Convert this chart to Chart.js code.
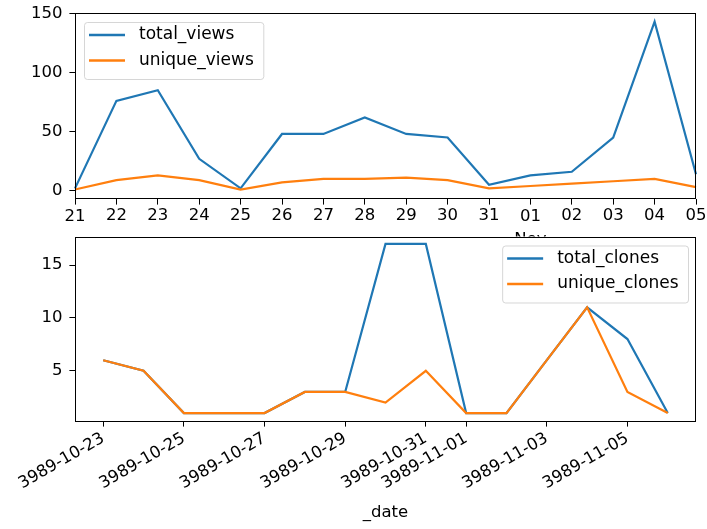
<!DOCTYPE html>
<html>
<head>
<meta charset="utf-8">
<script src="https://cdn.jsdelivr.net/npm/chart.js@4.4.1/dist/chart.umd.min.js"></script>
<style>
  html, body { margin: 0; padding: 0; background: #fff; }
  body { width: 707px; height: 529px; position: relative; overflow: hidden; }
  #top { position: absolute; left: 0; top: 0; width: 707px; height: 250px; }
  #bottom { position: absolute; left: 0; top: 230px; width: 707px; height: 299px; }
</style>
</head>
<body>
<div id="top"><canvas id="viewsChart"></canvas></div>
<div id="bottom"><canvas id="clonesChart"></canvas></div>
<script>
// views (top plot)
const viewDays = ['21', '22', '23', '24', '25', '26', '27', '28', '29', '30', '31', '01', '02', '03', '04', '05'];
const totalViews = [2, 76, 85, 27, 2, 48, 48, 62, 48, 45, 5, 13, 16, 45, 143, 14];
const uniqueViews = [1, 9, 13, 9, 1, 7, 10, 10, 11, 9, 2, 4, 6, 8, 10, 3];
const viewsYTicks = [0, 50, 100, 150];

// clones (bottom plot)
const cloneDates = ['3989-10-23', '3989-10-24', '3989-10-25', '3989-10-26', '3989-10-27', '3989-10-28', '3989-10-29',
  '3989-10-30', '3989-10-31', '3989-11-01', '3989-11-02', '3989-11-03', '3989-11-04', '3989-11-05', '3989-11-06'];
const totalClones = [6, 5, 1, 1, 1, 3, 3, 17, 17, 1, 1, 6, 11, 8, 1];
const uniqueClones = [6, 5, 1, 1, 1, 3, 3, 2, 5, 1, 1, 6, 11, 3, 1];
const cloneTickLabels = ['3989-10-23', '3989-10-25', '3989-10-27', '3989-10-29', '3989-10-31', '3989-11-01', '3989-11-03', '3989-11-05'];
const clonesYTicks = [5, 10, 15];

const BLUE = '#1f77b4';
const ORANGE = '#ff7f0e';

Chart.defaults.font.family = 'DejaVu Sans';
Chart.defaults.font.size = 16.5;
Chart.defaults.color = '#000';
Chart.defaults.animation = false;

// white axes background + black frame + matplotlib-ish legend box
function axesPlugin(legendSide) {
  return {
    id: 'axesFrame',
    beforeDraw(chart) {
      const a = chart.chartArea, ctx = chart.ctx;
      ctx.save();
      ctx.fillStyle = '#fff';
      ctx.fillRect(a.left, a.top, a.right - a.left, a.bottom - a.top);
      ctx.restore();
    },
    afterDraw(chart) {
      const a = chart.chartArea, ctx = chart.ctx;
      ctx.save();
      ctx.strokeStyle = '#000';
      ctx.lineWidth = 1;
      ctx.strokeRect(Math.round(a.left) + 0.5, Math.round(a.top) + 0.5,
        Math.round(a.right - a.left) - 1, Math.round(a.bottom - a.top) - 1);

      // legend
      ctx.font = '17px "DejaVu Sans"';
      const sets = chart.data.datasets;
      let textW = 0;
      sets.forEach(d => { textW = Math.max(textW, ctx.measureText(d.label).width); });
      const w = 55 + textW + 9.5, h = 57;
      const x = legendSide === 'left' ? a.left + 9 : a.right - 8 - w;
      const y = a.top + 9;
      ctx.globalAlpha = 0.8;
      ctx.fillStyle = '#fff';
      ctx.strokeStyle = '#cccccc';
      ctx.beginPath();
      ctx.roundRect(x + 0.5, y + 0.5, w, h, 3);
      ctx.fill();
      ctx.stroke();
      ctx.globalAlpha = 1;
      sets.forEach((d, i) => {
        const ry = y + 13 + i * 25.5;
        ctx.strokeStyle = d.borderColor;
        ctx.lineWidth = 2.4;
        ctx.beginPath();
        ctx.moveTo(x + 5, ry);
        ctx.lineTo(x + 41, ry);
        ctx.stroke();
        ctx.fillStyle = '#000';
        ctx.textBaseline = 'middle';
        ctx.textAlign = 'left';
        ctx.fillText(d.label, x + 55, ry);
      });
      ctx.restore();
    }
  };
}

const tickGrid = { drawOnChartArea: false, drawTicks: true, tickLength: 5.6, color: '#000', lineWidth: 1 };

// keep the plot areas where the reference has them
const fixY = s => { s.width = 75; s.paddingTop = 0; s.paddingBottom = 0; };
const fixX = h => s => { s.height = h; s.paddingLeft = 0; s.paddingRight = 0; };

// order: second series is drawn over the first, like matplotlib
new Chart(document.getElementById('viewsChart'), {
  type: 'line',
  data: {
    labels: viewDays,
    datasets: [
      { label: 'total_views', data: totalViews, borderColor: BLUE, backgroundColor: BLUE, borderWidth: 2.2, pointRadius: 0, tension: 0, order: 2 },
      { label: 'unique_views', data: uniqueViews, borderColor: ORANGE, backgroundColor: ORANGE, borderWidth: 2.2, pointRadius: 0, tension: 0, order: 1 }
    ]
  },
  options: {
    responsive: true,
    maintainAspectRatio: false,
    layout: { padding: { top: 13, right: 11, left: 0, bottom: 0 } },
    plugins: { legend: { display: false }, tooltip: { enabled: false } },
    scales: {
      x: {
        type: 'category',
        offset: false,
        grid: tickGrid,
        border: { display: false },
        ticks: {
          autoSkip: false, maxRotation: 0, minRotation: 0, padding: 1,
          font: (c) => ({ size: 16.5, lineHeight: (c.index === 0 || c.index === 11) ? 23 / 16.5 : 1.2 }),
          callback: (v, i) => i === 11 ? [viewDays[i], 'Nov'] : viewDays[i]
        },
        afterFit: fixX(51)
      },
      y: {
        min: -7, max: 150.3,
        grid: tickGrid,
        border: { display: false },
        ticks: { padding: 7 },
        afterBuildTicks: ax => { ax.ticks = viewsYTicks.map(v => ({ value: v })); },
        afterFit: fixY
      }
    }
  },
  plugins: [axesPlugin('left')]
});

new Chart(document.getElementById('clonesChart'), {
  type: 'line',
  data: {
    datasets: [
      { label: 'total_clones', data: totalClones.map((v, i) => ({ x: i, y: v })), borderColor: BLUE, backgroundColor: BLUE, borderWidth: 2.2, pointRadius: 0, tension: 0, order: 2 },
      { label: 'unique_clones', data: uniqueClones.map((v, i) => ({ x: i, y: v })), borderColor: ORANGE, backgroundColor: ORANGE, borderWidth: 2.2, pointRadius: 0, tension: 0, order: 1 }
    ]
  },
  options: {
    responsive: true,
    maintainAspectRatio: false,
    layout: { padding: { top: 6.5, right: 11, left: 0, bottom: 0 } },
    plugins: { legend: { display: false }, tooltip: { enabled: false } },
    scales: {
      x: {
        type: 'linear',
        min: -0.7, max: 14.7,
        grid: tickGrid,
        border: { display: false },
        afterBuildTicks: ax => { ax.ticks = cloneTickLabels.map(t => ({ value: cloneDates.indexOf(t) })); },
        ticks: {
          autoSkip: false, minRotation: 30, maxRotation: 30, padding: 2,
          callback: v => cloneDates[v]
        },
        title: { display: true, text: '_date', padding: { top: 4, bottom: 6 } },
        afterFit: fixX(108)
      },
      y: {
        min: 0.25, max: 17.7,
        grid: tickGrid,
        border: { display: false },
        ticks: { padding: 7 },
        afterBuildTicks: ax => { ax.ticks = clonesYTicks.map(v => ({ value: v })); },
        afterFit: fixY
      }
    }
  },
  plugins: [axesPlugin('right')]
});
</script>
</body>
</html>
